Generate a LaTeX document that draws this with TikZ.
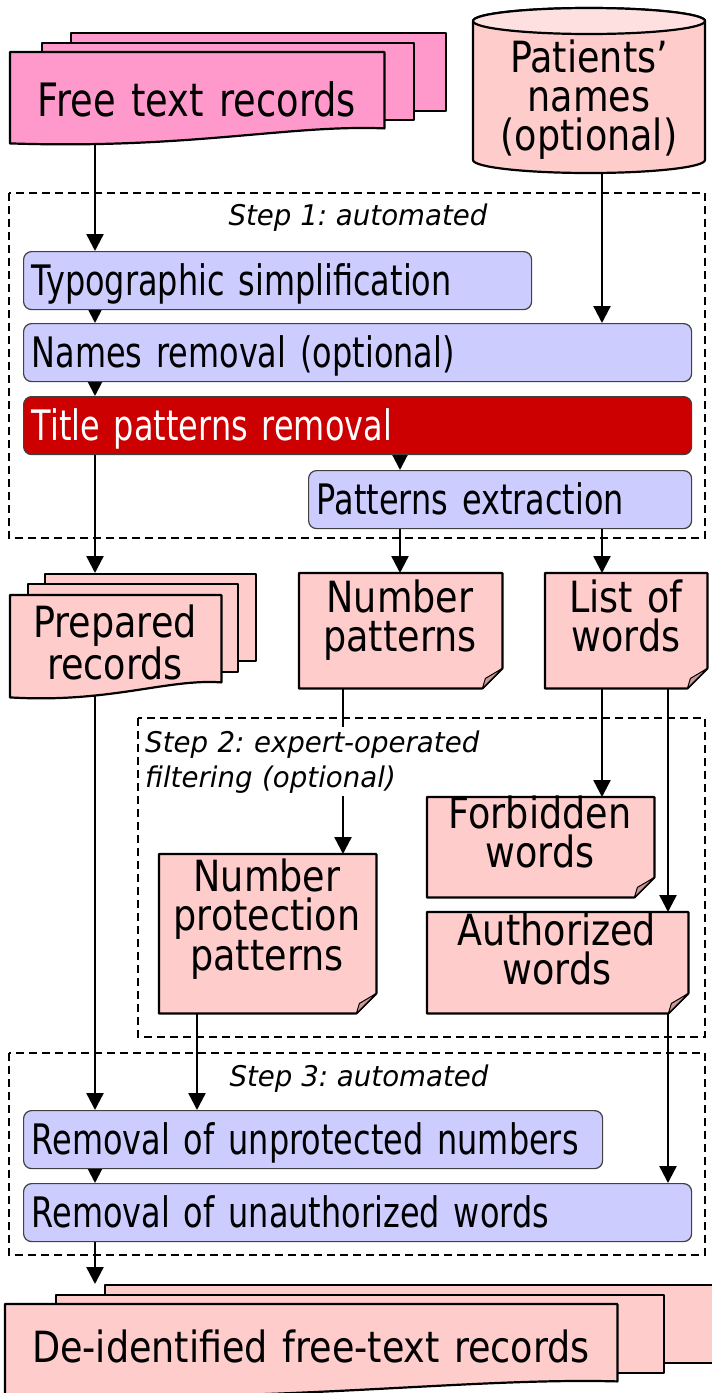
\documentclass[tikz,border=0pt]{standalone}
\usepackage{fontspec}
\usetikzlibrary{arrows.meta,backgrounds}
\newfontfamily\bxfont[FakeStretch=0.76]{DejaVu Sans}
\newfontfamily\dcfont[FakeStretch=0.85]{DejaVu Sans}
\newfontfamily\ftfont[FakeStretch=0.8]{DejaVu Sans}
\newfontfamily\stfont[FakeStretch=0.97]{DejaVu Sans Oblique}
\frenchspacing
\definecolor{freepink}{HTML}{FF99CC}
\definecolor{docpink}{HTML}{FFCCCC}
\definecolor{foldpink}{HTML}{CC9999}
\definecolor{boxblue}{HTML}{CCCCFF}
\definecolor{titlered}{HTML}{CC0000}
\definecolor{cyltop}{HTML}{FFE0E0}
\newcommand\notedraw[1]{%
  \draw[line width=2.2pt,fill=docpink] (#1.north west) -- (#1.north east) -- ([yshift=20pt]#1.south east) -- ([xshift=-20pt]#1.south east) -- (#1.south west) -- cycle;
  \draw[line width=1pt,fill=foldpink] ([yshift=20pt]#1.south east) -- ([xshift=-17pt,yshift=10pt]#1.south east) -- ([xshift=-20pt]#1.south east) -- cycle;}
\newcommand\wavedraw[4]{%
  \draw[line width=2.2pt,fill=#2] (#1.north west) -- (#1.north east) -- (#1.south east) .. controls +(-#3,4pt) and +(#4,-6pt) .. ([yshift=-15pt]#1.south west) -- cycle;}
\begin{document}
\begin{tikzpicture}[x=1pt,y=-1pt,line join=round,
  arr/.style={line width=2.4pt,-{Triangle[length=17pt,width=17pt]}},
  stepframe/.style={draw,line width=1.6pt,dash pattern=on 8pt off 5pt},
  pbox/.style={draw=black!75,line width=1.2pt,rounded corners=8pt,fill=boxblue,inner xsep=8pt,inner ysep=0pt,text height=30pt,text depth=0pt,minimum height=58pt,anchor=north west,align=left,text width=#1,font=\bxfont\fontsize{42}{42}\selectfont},
  sheet/.style={draw,line width=2.2pt,fill=docpink,inner sep=0pt,anchor=north west},
  frame/.style={inner sep=0pt,anchor=north west},
  doctext/.style={inner sep=0pt,anchor=base,align=center,text width=620pt,font=\dcfont\fontsize{43}{39}\selectfont},
  steplabel/.style={inner sep=0pt,anchor=base,font=\stfont\fontsize{28.5}{35}\selectfont},
]
\path[use as bounding box] (0,0) rectangle (712,1393);
\begin{scope}[on background layer]
  \fill[white] (0,0) rectangle (712,1393);
\end{scope}
\clip (0,0) rectangle (712,1393);

% columns
\coordinate (cA) at (95,0);
\coordinate (cB) at (197,0);
\coordinate (cC) at (343,0);
\coordinate (cD) at (400,0);
\coordinate (cE) at (602,0);
\coordinate (cF) at (668,0);

% Free text records
\node[sheet,fill=freepink,minimum width=375pt,minimum height=78pt] (ft3) at (70,32) {};
\node[sheet,fill=freepink,minimum width=372pt,minimum height=77pt] (ft2) at (41,42) {};
\node[frame,minimum width=374pt,minimum height=76pt] (ft1) at (10,52) {};
\wavedraw{ft1}{freepink}{95pt}{180pt}
\node[doctext,font=\ftfont\fontsize{46}{40}\selectfont] (ftt) at (197,116) {Free text records};

% Patients' names cylinder
\node[frame,minimum width=232pt,minimum height=165pt] (pn) at (473,8) {};
\draw[line width=2.2pt,fill=docpink] (473,21) -- (473,160) arc[start angle=180,end angle=360,x radius=116pt,y radius=13pt] -- (705,21) arc[start angle=0,end angle=180,x radius=116pt,y radius=13pt] -- cycle;
\draw[line width=2.2pt,fill=cyltop] (589,21) ellipse[x radius=116pt,y radius=13pt];
\node[doctext] (pnt) at (589,72) {Patients’\\names\\(optional)};

% Step 1
\node[steplabel] (s1) at (358,225) {Step 1: automated};
\node[pbox=492pt] (typo) at (23,251) {Typographic simplification};
\node[pbox=652pt] (names) at (23,323) {Names removal (optional)};
\node[pbox=652pt,fill=titlered,text=white] (title) at (23,396) {Title patterns removal};
\node[pbox=367pt] (pext) at (308,470) {Patterns extraction};

% Prepared records
\node[sheet,minimum width=211pt,minimum height=87pt] (pr3) at (44,573) {};
\node[sheet,minimum width=210pt,minimum height=88pt] (pr2) at (27,583) {};
\node[frame,minimum width=211pt,minimum height=87pt] (pr1) at (10,595) {};
\wavedraw{pr1}{docpink}{54pt}{100pt}
\node[doctext] (prt) at (115,637) {Prepared\\records};

% Notes
\node[frame,minimum width=203pt,minimum height=115pt] (np) at (299,573) {};
\notedraw{np}
\node[doctext] (npt) at (400,612) {Number\\patterns};
\node[frame,minimum width=162pt,minimum height=115pt] (lw) at (545,573) {};
\notedraw{lw}
\node[doctext] (lwt) at (626,612) {List of\\words};

% Step 2
\node[steplabel,anchor=base west,fill=white,inner sep=3pt,text width=340pt,align=left] (s2) at (142,752) {Step 2: expert-operated\\filtering (optional)};
\node[frame,minimum width=217pt,minimum height=159pt] (npp) at (159,854) {};
\notedraw{npp}
\node[doctext] (nppt) at (267,891) {Number\\protection\\patterns};
\node[frame,minimum width=227pt,minimum height=100pt] (fw) at (427,797) {};
\notedraw{fw}
\node[doctext] (fwt) at (540,828) {Forbidden\\words};
\node[frame,minimum width=261pt,minimum height=101pt] (aw) at (427,912) {};
\notedraw{aw}
\node[doctext] (awt) at (557,945) {Authorized\\words};

% Step 3
\node[steplabel] (s3) at (359,1086) {Step 3: automated};
\node[pbox=563pt] (rem1) at (23,1110) {Removal of unprotected numbers};
\node[pbox=652pt] (rem2) at (23,1183) {Removal of unauthorized words};

% De-identified records
\node[sheet,minimum width=680pt,minimum height=78pt] (d3) at (104,1284) {};
\node[sheet,minimum width=608pt,minimum height=78pt] (d2) at (55,1294) {};
\node[frame,minimum width=612pt,minimum height=77pt] (d1) at (5,1304) {};
\wavedraw{d1}{docpink}{150pt}{290pt}
\node[doctext] (dt) at (311,1362) {De-identified free-text records};

\begin{scope}[on background layer]
  \draw[stepframe] (9,193) rectangle (705,538);
  \draw[stepframe] (138,718) rectangle (705,1037);
  \draw[stepframe] (9,1053) rectangle (705,1255);
  \draw[arr] (ft1.south -| cA) -- (typo.north -| cA);
  \draw[arr] (pn.south -| cE) -- (names.north -| cE);
  \draw[arr] (typo.south -| cA) -- (names.north -| cA);
  \draw[arr] (names.south -| cA) -- (title.north -| cA);
  \draw[arr] (title.south -| cD) -- (pext.north -| cD);
  \draw[arr] (title.south -| cA) -- (pr3.north -| cA);
  \draw[arr] (pext.south -| cD) -- (np.north -| cD);
  \draw[arr] (pext.south -| cE) -- (lw.north -| cE);
  \draw[arr] (np.south -| cC) -- (npp.north -| cC);
  \draw[arr] (lw.south -| cE) -- (fw.north -| cE);
  \draw[arr] (lw.south -| cF) -- (aw.north -| cF);
  \draw[arr] (pr1.south -| cA) -- (rem1.north -| cA);
  \draw[arr] (npp.south -| cB) -- (rem1.north -| cB);
  \draw[arr] (aw.south -| cF) -- (rem2.north -| cF);
  \draw[arr] (rem1.south -| cA) -- (rem2.north -| cA);
  \draw[arr] (rem2.south -| cA) -- (d3.north -| cA);
\end{scope}
\end{tikzpicture}
\end{document}
